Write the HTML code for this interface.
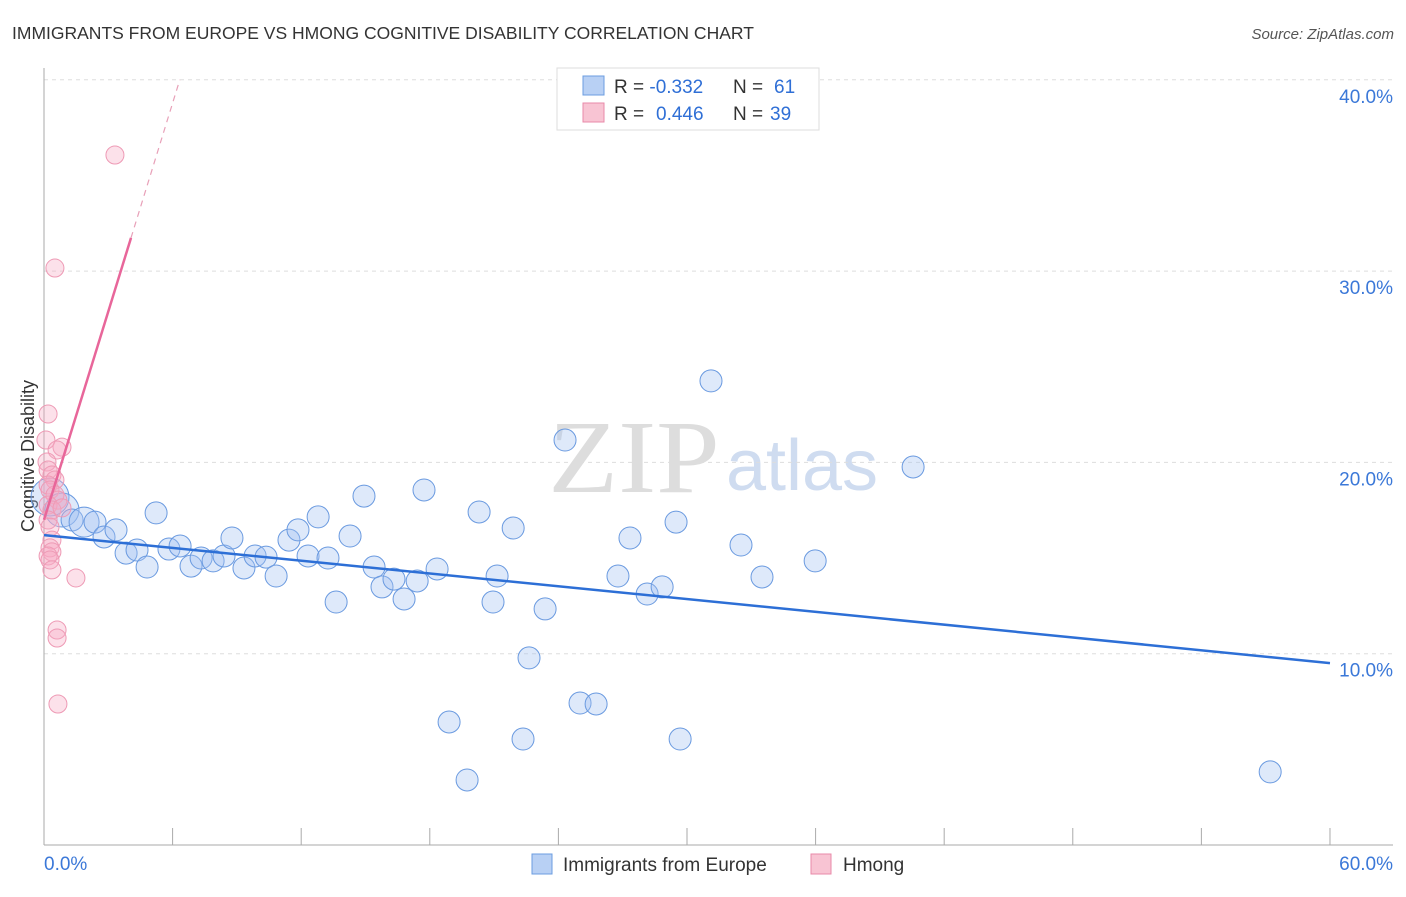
<!DOCTYPE html>
<html><head><meta charset="utf-8"><style>
body{margin:0;background:#fff;font-family:"Liberation Sans",sans-serif;}
svg text{font-family:"Liberation Sans",sans-serif;}
</style></head><body>
<svg width="1406" height="892" xmlns="http://www.w3.org/2000/svg" id="chart">
<text x="12" y="39" font-size="17.5" fill="#333">IMMIGRANTS FROM EUROPE VS HMONG COGNITIVE DISABILITY CORRELATION CHART</text>
<text x="1394" y="39" font-size="15" fill="#555" text-anchor="end" font-style="italic">Source: ZipAtlas.com</text>
<text x="34" y="456" font-size="18" fill="#333" text-anchor="middle" transform="rotate(-90 34 456)">Cognitive Disability</text>
<g>
<text x="634" y="492" font-size="104" fill="#ddd" text-anchor="middle" style="font-family:'Liberation Serif',serif" transform="translate(634 0) scale(1.1 1) translate(-634 0)">ZIP</text>
<text x="802" y="490" font-size="72" fill="#cfdcf0" text-anchor="middle">atlas</text>
</g>
<g id="grid"></g><g id="axes"></g><g id="marks"></g>
<g>
<rect x="557" y="68" width="262" height="62" fill="#fff" stroke="#ddd"/>
<rect x="583" y="76" width="21" height="19" fill="#b8d0f4" stroke="#6b9de0"/>
<rect x="583" y="103" width="21" height="19" fill="#f8c4d3" stroke="#e88aa8"/>
<text x="614" y="93" font-size="19" fill="#333">R = <tspan fill="#2f6fd6">-0.332</tspan><tspan x="733">N = </tspan><tspan x="774" fill="#2f6fd6">61</tspan></text>
<text x="614" y="120" font-size="19" fill="#333">R = <tspan x="656" fill="#2f6fd6">0.446</tspan><tspan x="733">N = </tspan><tspan x="770" fill="#2f6fd6">39</tspan></text>
</g>
<g>
<rect x="532" y="854" width="20" height="20" fill="#b8d0f4" stroke="#6b9de0"/>
<text x="563" y="871" font-size="19" fill="#333">Immigrants from Europe</text>
<rect x="811" y="854" width="20" height="20" fill="#f8c4d3" stroke="#e88aa8"/>
<text x="843" y="871" font-size="19" fill="#333">Hmong</text>
</g>
</svg>
<script>
const blueX=[0.28,0.84,1.31,1.87,2.38,2.8,3.36,3.83,4.34,4.81,5.23,5.83,6.35,6.86,7.33,7.89,8.4,8.77,9.33,9.85,10.36,10.83,11.43,11.85,12.32,12.79,13.25,13.63,14.28,14.93,15.4,15.77,16.33,16.8,17.41,17.73,18.34,18.9,19.74,20.3,20.95,21.14,21.89,22.35,22.63,23.38,24.31,25.01,25.76,26.78,27.34,28.14,28.84,29.49,29.68,31.12,32.52,33.5,35.98,40.55,57.21];
const blueY=[18.19,17.51,16.99,16.88,16.88,16.1,16.47,15.26,15.42,14.53,17.36,15.47,15.63,14.58,15.0,14.85,15.11,16.05,14.48,15.11,15.05,14.06,15.94,16.47,15.11,17.15,15.0,12.7,16.15,18.24,14.53,13.49,13.9,12.86,13.8,18.56,14.43,6.43,3.4,17.41,12.7,14.06,16.57,5.54,9.78,12.34,21.17,7.42,7.37,14.06,16.05,13.12,13.49,16.88,5.54,24.26,15.68,14.01,14.85,19.76,3.82];
const blueR=[19,17,11,15,11,11,11,11,11,11,11,11,11,11,11,11,11,11,11,11,11,11,11,11,11,11,11,11,11,11,11,11,11,11,11,11,11,11,11,11,11,11,11,11,11,11,11,11,11,11,11,11,11,11,11,11,11,11,11,11,11];
const pinkX=[3.31,0.51,0.19,0.09,0.84,0.61,0.14,0.19,0.37,0.51,0.19,0.28,0.51,0.65,0.19,0.37,0.84,0.19,0.28,0.37,0.28,0.37,0.19,0.28,0.37,1.49,0.61,0.61,0.65];
const pinkY=[36.07,30.16,22.53,21.17,20.8,20.65,20.02,19.6,19.34,19.08,18.82,18.56,18.3,18.03,17.77,17.51,17.62,16.99,16.62,15.94,15.53,15.32,15.11,14.9,14.38,13.96,11.24,10.82,7.37];
const blueTrend=[16.2,9.51];
const pinkTrend=[17.0,3.63];
const yTicks=[10,20,30,40];
const xTickLabels=["0.0%","60.0%"];
const NS="http://www.w3.org/2000/svg";
const X=v=>44+v*21.433, Y=v=>845-v*19.13;
function el(t,a,p){const e=document.createElementNS(NS,t);for(const k in a)e.setAttribute(k,a[k]);document.getElementById(p).appendChild(e);return e;}
yTicks.forEach(t=>{
 const l=el('line',{x1:44,x2:1393,y1:Y(t),y2:Y(t),stroke:'#ddd','stroke-dasharray':'4,4'},'grid');
 
 
 const tx=el('text',{x:1393,y:Y(t)+23,'font-size':19,fill:'#3b78d8','text-anchor':'end'},'grid');tx.textContent=t.toFixed(1)+'%';
 
 
});
let a=el('line',{x1:44,x2:44,y1:68,y2:845,stroke:'#aaa'},'axes');


a=el('line',{x1:44,x2:1393,y1:845,y2:845,stroke:'#aaa'},'axes');


for(let i=0;i<=10;i++){const t=el('line',{x1:X(i*6),x2:X(i*6),y1:828,y2:845,stroke:'#aaa'},'axes');
 
 }
let t0=el('text',{x:44,y:870,'font-size':19,fill:'#3b78d8'},'axes');t0.textContent=xTickLabels[0];


t0=el('text',{x:1393,y:870,'font-size':19,fill:'#3b78d8','text-anchor':'end'},'axes');t0.textContent=xTickLabels[1];


blueX.forEach((v,i)=>{const c=el('circle',{cx:X(v),cy:Y(blueY[i]),r:blueR[i],fill:'rgba(160,192,242,0.35)',stroke:'#6a9ae0','stroke-width':1},'marks');
 
 });
pinkX.forEach((v,i)=>{const c=el('circle',{cx:X(v),cy:Y(pinkY[i]),r:9,fill:'rgba(245,170,195,0.35)',stroke:'#ee9ab5','stroke-width':1},'marks');
 
 });
let ln=el('line',{x1:X(0),y1:Y(blueTrend[0]),x2:X(60),y2:Y(blueTrend[1]),stroke:'#2d6fd6','stroke-width':2.5},'marks');


const pe=4.06, pd=(40-pinkTrend[0])/pinkTrend[1];
ln=el('line',{x1:X(0),y1:Y(pinkTrend[0]),x2:X(pe),y2:Y(pinkTrend[0]+pinkTrend[1]*pe),stroke:'#e8669a','stroke-width':2.5},'marks');


ln=el('line',{x1:X(pe),y1:Y(pinkTrend[0]+pinkTrend[1]*pe),x2:X(pd),y2:Y(40),stroke:'#e8a0b8','stroke-width':1.2,'stroke-dasharray':'6,5'},'marks');


</script>
</body></html>
